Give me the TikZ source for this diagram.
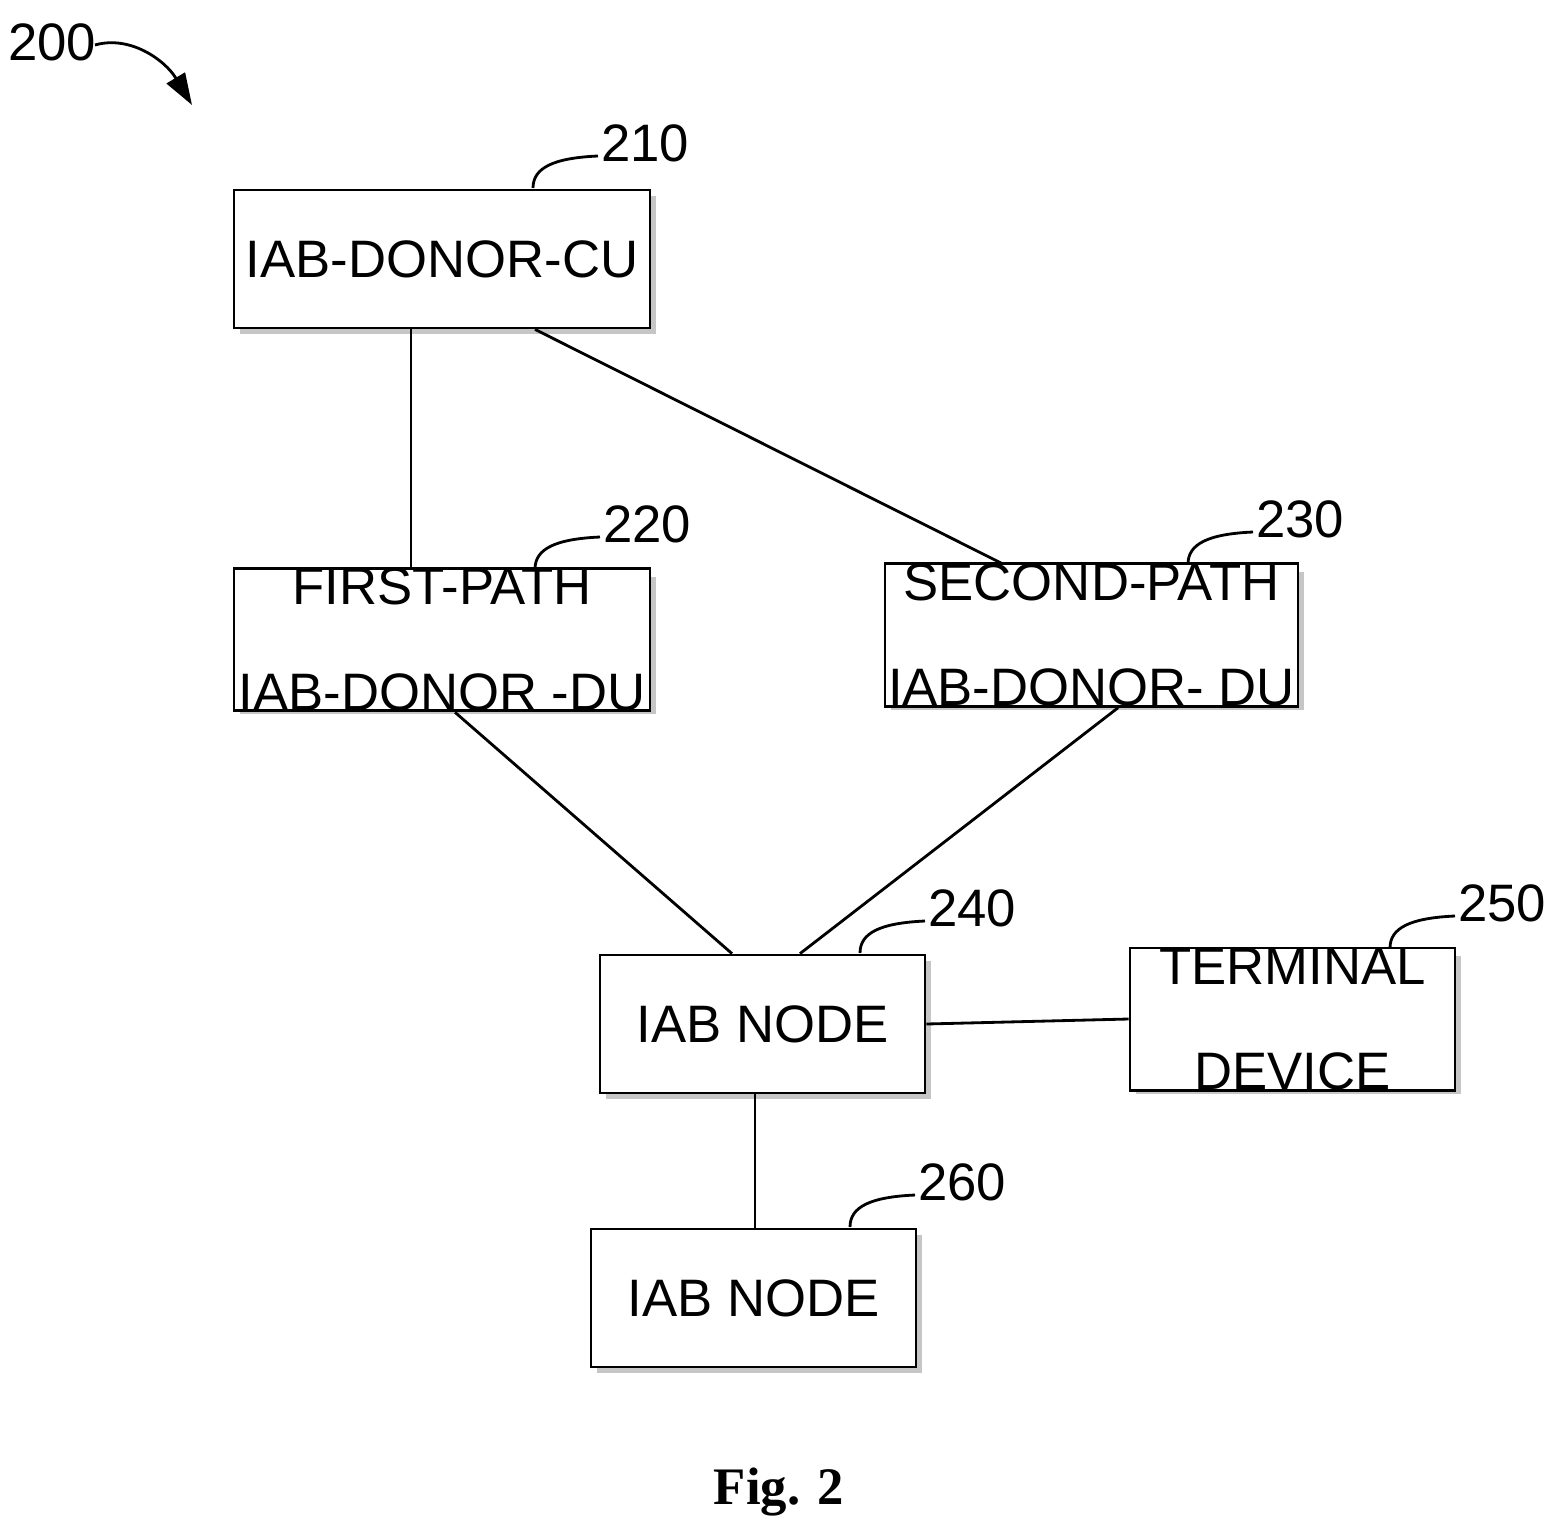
\documentclass[tikz,border=0pt]{standalone}
\usepackage{fontspec}
\setmainfont{Liberation Sans}
\newfontfamily\serifb{Liberation Serif}
\usetikzlibrary{arrows.meta}
\begin{document}
\begin{tikzpicture}[x=0.02cm,y=-0.02cm,
 box/.style={draw,line width=1.6pt,fill=white,inner sep=0,align=center,font=\fontsize{30}{60}\selectfont},
 lk/.style={line width=1.6pt},
 lbl/.style={font=\fontsize{30}{36}\selectfont,anchor=west,inner sep=0}]
\useasboundingbox (0,0) rectangle (1544,1538);
\newcommand\bx[6]{%
 \fill[gray!45] (#2+6,#3+6) rectangle (#4+6,#5+6);
 \node[box,minimum width=(#4-#2)*0.02cm,minimum height=(#5-#3)*0.02cm] (#1) at ({(#2+#4)/2},{(#3+#5)/2}) {#6};}
\bx{n210}{234}{190}{650}{328}{IAB-DONOR-CU}
\bx{n220}{234}{571}{650}{708}{FIRST-PATH\\IAB-DONOR -DU}
\bx{n230}{885}{566}{1298}{704}{SECOND-PATH\\IAB-DONOR- DU}
\bx{n240}{600}{955}{925}{1093}{IAB NODE}
\bx{n250}{1130}{950}{1455}{1088}{TERMINAL\\DEVICE}
\bx{n260}{591}{1229}{916}{1367}{IAB NODE}
\draw[lk] (n210.south -| 411,0) -- (n220.north -| 411,0);
\draw[lk] (n210.south -| 535,0) -- (1003,564);
\draw[lk] (n220.south -| 455,0) -- (n240.north -| 732,0);
\draw[lk] (n230.south -| 1118,0) -- (n240.north -| 800,0);
\draw[lk] (n240.east) -- (n250.west);
\draw[lk] (n240.south -| 755,0) -- (n260.north -| 755,0);
\newcommand\ld[4]{%
 \draw[line width=1.6pt] (#1,#2) .. controls (#1,#2-20) and (#1+20,#2-30) .. (#1+65,#2-32);
 \node[lbl] (#4) at (#1+68,#2-45) {#3};}
\ld{533}{188}{210}{l210}
\ld{535}{569}{220}{l220}
\ld{1188}{564}{230}{l230}
\ld{860}{953}{240}{l240}
\ld{1390}{948}{250}{l250}
\ld{850}{1227}{260}{l260}
\node[lbl] (l200) at (8,42) {200};
\draw[line width=1.6pt,-{Triangle[length=18pt,width=12pt]}] (95,45) .. controls (130,35) and (165,60) .. (192,105);
\node[font=\serifb\bfseries\fontsize{30}{36}\selectfont] (fig) at (779,1492) {Fig. 2};
\end{tikzpicture}
\end{document}
